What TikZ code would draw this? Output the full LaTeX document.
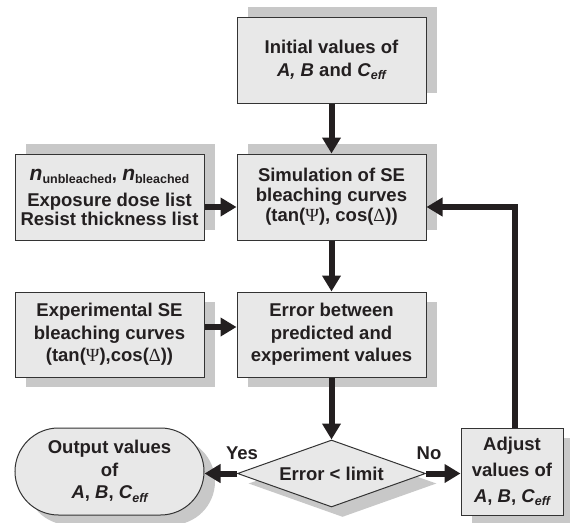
\documentclass[tikz,border=0pt]{standalone}
\usepackage{fontspec}
\setmainfont{Liberation Sans}
\newfontfamily\symf{Liberation Serif}
\usetikzlibrary{arrows.meta,shapes.geometric,shapes.misc,shadows}
\definecolor{boxfill}{HTML}{E8E8E8}
\definecolor{shade}{HTML}{C8C8C8}
\definecolor{ink}{HTML}{231F20}
\definecolor{edge}{HTML}{333333}
\newcommand{\lowsub}[1]{\raisebox{-3.5pt}{\fontsize{12.5}{12.5}\selectfont #1}}
\newcommand{\Ceff}{\textit{C}\lowsub{\itshape eff}}
\newcommand{\Psym}{{\symf\mdseries Ψ}}
\newcommand{\Dsym}{{\symf\mdseries Δ}}
\begin{document}
\begin{tikzpicture}[x=1pt,y=-1pt,
  base/.style={draw=edge, line width=1pt, fill=boxfill, align=center, text=ink,
    font=\fontsize{18.5}{20}\selectfont\bfseries, inner sep=0pt},
  shup/.style={drop shadow={shadow xshift=11pt, shadow yshift=10pt, opacity=1, fill=shade, draw=none}},
  shdown/.style={drop shadow={shadow xshift=11pt, shadow yshift=-10pt, opacity=1, fill=shade, draw=none}},
  boxup/.style={base, shup, rectangle, minimum width=189pt, minimum height=86pt},
  boxdown/.style={base, shdown, rectangle, minimum width=189pt, minimum height=85pt},
  arr/.style={line width=6pt, draw=ink, -{Triangle[length=16pt,width=18pt]}},
  lab/.style={font=\fontsize{18.5}{20}\selectfont\bfseries, text=ink, inner sep=0pt}
]
\useasboundingbox (0,0) rectangle (570,522);

\node[boxup] (init) at (331.5,60) {Initial values of\\[3pt]\textit{A, B} and \Ceff};
\node[boxup] (sim) at (331.5,197) {Simulation of SE\\bleaching curves\\(tan(\Psym), cos(\Dsym))};
\node[boxup, font=\fontsize{18.5}{19}\selectfont\bfseries] (nbox) at (109.5,197)
  {{\fontsize{21}{20}\selectfont\textit{n}}\lowsub{unbleached}, {\fontsize{21}{20}\selectfont\textit{n}}\lowsub{bleached}\\[7pt]Exposure dose list\\Resist thickness list};
\node[boxdown, font=\fontsize{18.5}{22.5}\selectfont\bfseries] (exp) at (109.5,334.5)
  {Experimental SE\\bleaching curves\\(tan(\Psym),cos(\Dsym))};
\node[boxdown, font=\fontsize{18.5}{22.5}\selectfont\bfseries] (err) at (331.5,334.5)
  {Error between\\predicted and\\experiment values};
\node[base, shdown, diamond, aspect=2.8, minimum width=188pt, minimum height=67pt] (dia) at (331.5,473.5) {Error < limit};
\node[base, shdown, rounded rectangle, minimum width=189pt, minimum height=87pt,
  font=\fontsize{18.5}{22.5}\selectfont\bfseries] (out) at (109.5,471.5)
  {Output values\\of\\\textit{A}, \textit{B}, \Ceff};
\node[base, shdown, rectangle, minimum width=102pt, minimum height=87pt,
  font=\fontsize{18.5}{26}\selectfont\bfseries] (adj) at (512,471.5)
  {Adjust\\values of\\\textit{A}, \textit{B}, \Ceff};

\draw[arr] (init) -- (sim);
\draw[arr] ([yshift=-10pt]nbox.east) -- ([yshift=-10pt]sim.west);
\draw[arr] (sim) -- (err);
\draw[arr] ([yshift=7.5pt]exp.east) -- ([yshift=7.5pt]err.west);
\draw[arr] (err) -- (dia);
\draw[arr] (dia.west) -- (dia.west -| out.east);
\draw[arr] (dia.east) -- (dia.east -| adj.west);
\draw[arr] ([xshift=3pt]adj.north) |- ([yshift=-10pt]sim.east);

\node[lab] (yes) at (242,453) {Yes};
\node[lab] (no) at (429,453) {No};
\end{tikzpicture}
\end{document}
